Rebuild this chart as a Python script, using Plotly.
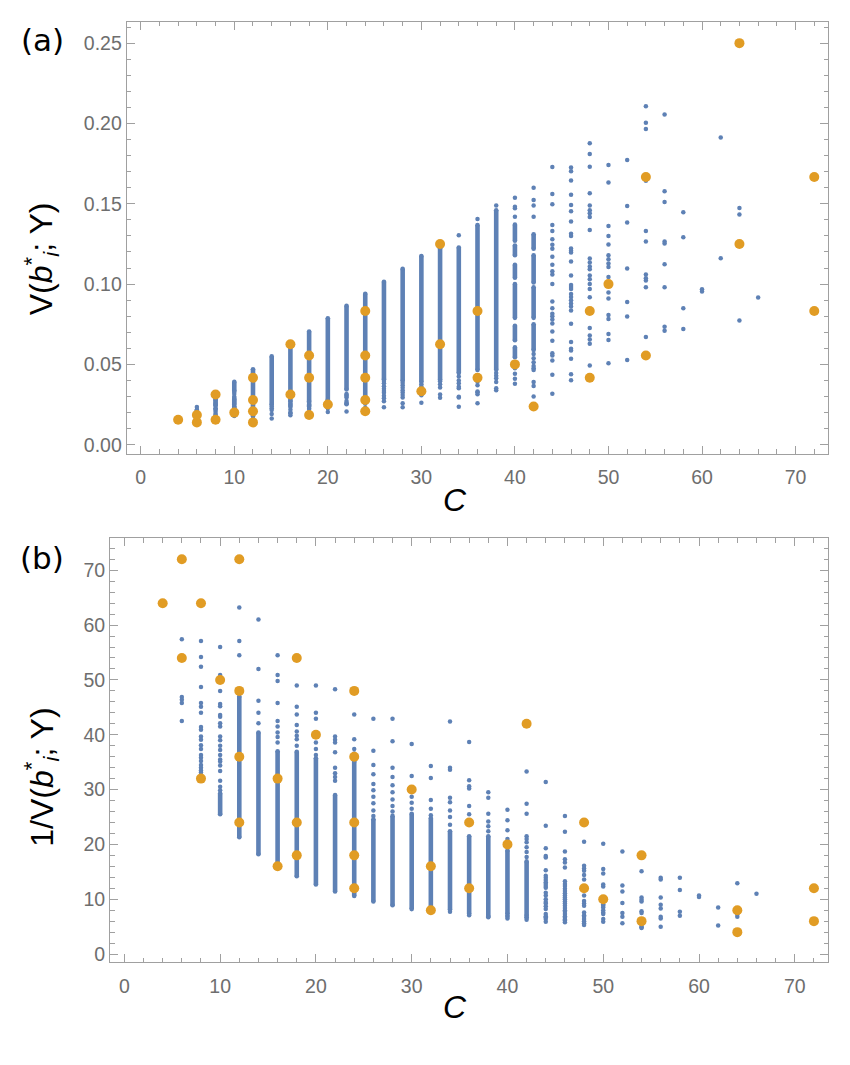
import plotly.graph_objects as go

W, H = 850, 1065
BLUE = "#5E81B5"
ORANGE = "#E19C24"

# ---------------- Panel (a): V(b_i*; Y) ----------------
# dense (visually continuous) stretches of points in a column
a_seg_C = [10, 12, 14, 16, 18, 20, 22, 24, 26, 28, 30, 32, 34, 36, 38,
           40, 40, 40, 40, 40, 40, 42, 42, 42, 42]
a_seg_lo = [0.0334, 0.0213, 0.0248, 0.0270, 0.0271, 0.0280, 0.0344, 0.0285, 0.0407, 0.0397,
            0.0390, 0.0403, 0.0446, 0.0465, 0.0466,
            0.0545, 0.0650, 0.0790, 0.1040, 0.1180, 0.1270, 0.0590, 0.0790, 0.1010, 0.1220]
a_seg_hi = [0.0392, 0.0470, 0.0550, 0.0615, 0.0705, 0.0787, 0.0865, 0.0940, 0.1015, 0.1095,
            0.1175, 0.1223, 0.1228, 0.1368, 0.1460,
            0.0606, 0.0740, 0.1000, 0.1120, 0.1240, 0.1370, 0.0750, 0.0980, 0.1180, 0.1310]

# individual points per column C
a_pts = {
    6: [0.0174, 0.0213, 0.0216, 0.0218, 0.0235],
    8: [0.0175, 0.0185, 0.0191, 0.0205, 0.0218, 0.0222, 0.0227, 0.0242, 0.0244, 0.0252,
        0.0256, 0.0262, 0.0267, 0.0275, 0.0279, 0.0284, 0.0290, 0.0294, 0.0299, 0.0302],
    10: [0.0179, 0.0196, 0.0208, 0.0219, 0.0221, 0.0229, 0.0231, 0.0238, 0.0241, 0.0252,
         0.0256, 0.0263, 0.0269, 0.0275, 0.0282, 0.0285, 0.0291, 0.0299, 0.0316, 0.0328],
    12: [0.0158, 0.0175, 0.0183],
    14: [0.0164, 0.0192, 0.0216, 0.0227, 0.0238],
    16: [0.0183, 0.0196, 0.0201, 0.0218, 0.0235, 0.0241, 0.0248, 0.0253, 0.0259],
    18: [0.0204, 0.0222, 0.0229, 0.0239, 0.0246, 0.0251, 0.0255, 0.0263],
    20: [0.0204, 0.0227, 0.0233, 0.0259, 0.0267, 0.0275],
    22: [0.0207, 0.0252, 0.0256, 0.0259, 0.0272, 0.0294, 0.0303, 0.0310, 0.0316],
    24: [0.0229, 0.0255, 0.0267, 0.0273],
    26: [0.0233, 0.0270, 0.0290, 0.0305, 0.0323, 0.0334, 0.0348, 0.0364, 0.0382, 0.0397],
    28: [0.0233, 0.0258, 0.0294, 0.0310, 0.0325, 0.0339, 0.0355, 0.0370, 0.0385],
    30: [0.0261, 0.0308, 0.0348, 0.0362, 0.0377],
    32: [0.0292, 0.0312, 0.0356, 0.0377, 0.0395],
    34: [0.0236, 0.0294, 0.0298, 0.0351, 0.0361, 0.0382, 0.0400, 0.0424, 0.1304],
    36: [0.0258, 0.0315, 0.0327, 0.0331, 0.0370, 0.0392, 0.1406],
    38: [0.0339, 0.0351, 0.0390, 0.0414, 0.0429, 0.0446, 0.1489],
    40: [0.0380, 0.0410, 0.0442, 0.0476, 0.1420, 0.1472, 0.1482, 0.1538],
    42: [0.0300, 0.0365, 0.0390, 0.0465, 0.0476, 0.0490, 0.0513, 0.0538, 0.0565,
         0.1420, 0.1489, 0.1524, 0.1600],
    44: [0.1729, 0.1561, 0.1497, 0.1368, 0.1330, 0.1280, 0.1245, 0.1220, 0.1170, 0.1120,
         0.1080, 0.1060, 0.1000, 0.0891, 0.0850, 0.0815, 0.0800, 0.0780, 0.0755, 0.0705,
         0.0648, 0.0570, 0.0555, 0.0525, 0.0435, 0.0317],
    46: [0.1726, 0.1702, 0.1645, 0.1557, 0.1493, 0.1454, 0.1390, 0.1314, 0.1300, 0.1221,
         0.1208, 0.1196, 0.1141, 0.1053, 0.0995, 0.0982, 0.0970, 0.0939, 0.0920, 0.0900,
         0.0880, 0.0860, 0.0835, 0.0753, 0.0639, 0.0597, 0.0587, 0.0536, 0.0439, 0.0402],
    48: [0.1877, 0.1810, 0.1730, 0.1566, 0.1489, 0.1460, 0.1441, 0.1417, 0.1337, 0.1159,
         0.1135, 0.1110, 0.1093, 0.1053, 0.1030, 0.1000, 0.0970, 0.0918, 0.0727, 0.0680,
         0.0655, 0.0628, 0.0493],
    50: [0.1742, 0.1633, 0.1362, 0.1299, 0.1247, 0.1179, 0.1155, 0.1128, 0.1106, 0.1044,
         0.0948, 0.0911, 0.0807, 0.0782, 0.0689, 0.0652, 0.0507],
    52: [0.1772, 0.1486, 0.1383, 0.1097, 0.0889, 0.0798, 0.0527],
    54: [0.2108, 0.2005, 0.1965, 0.1644, 0.1331, 0.1265, 0.1059, 0.1037, 0.1022, 0.0981, 0.0670],
    56: [0.2056, 0.1578, 0.1511, 0.1265, 0.1252, 0.1124, 0.0981, 0.0734, 0.0709],
    58: [0.1447, 0.1291, 0.0850, 0.0721],
    60: [0.0968, 0.0954],
    62: [0.1913, 0.1161],
    64: [0.1474, 0.1434, 0.0773],
    66: [0.0916],
}

# highlighted (orange) configurations
org_C = [4, 6, 6, 8, 8, 10, 12, 12, 12, 12, 16, 16, 18, 18, 18, 20,
         24, 24, 24, 24, 24, 30, 32, 32, 36, 36, 40, 42, 48, 48, 50, 54, 54, 64, 64, 72, 72]
a_org_V = [0.0156, 0.0139, 0.0185, 0.0156, 0.03125, 0.0200, 0.0139, 0.0208, 0.0278, 0.0417,
           0.03125, 0.0625, 0.0185, 0.0417, 0.0556, 0.0250,
           0.0208, 0.0278, 0.0417, 0.0556, 0.0833, 0.0333, 0.0625, 0.1250, 0.0417, 0.0833,
           0.0500, 0.0238, 0.0417, 0.0833, 0.1000, 0.0556, 0.1667, 0.1250, 0.2500, 0.0833, 0.1667]

# ---------------- Panel (b): 1/V(b_i*; Y) ----------------
b_seg_C = [10, 12, 14, 16, 18, 20, 22, 24, 26, 28, 30, 32, 34, 36, 38, 40, 42]
b_seg_lo = [25.5, 21.3, 18.2, 16.3, 14.2, 12.7, 11.4, 10.6, 9.6, 8.9, 8.2, 8.2, 8.1, 7.3, 6.85, 7.3, 7.0]
b_seg_hi = [29.3, 47.0, 40.4, 37.0, 36.9, 35.7, 29.0, 35.1, 24.6, 25.2, 25.6, 24.8, 22.4, 21.5, 21.5, 18.9, 16.9]

b_pts = {
    6: [57.4, 46.9, 46.4, 45.8, 42.5],
    8: [57.1, 54.2, 52.4, 48.7, 45.8, 45.1, 44.0, 41.4, 40.9, 39.7, 39.1, 38.1, 37.4, 36.3,
        35.8, 35.2, 34.5, 34.0, 33.5, 33.1],
    10: [56.0, 50.9, 48.0, 45.6, 45.2, 43.6, 43.3, 42.1, 41.5, 39.7, 39.0, 38.0, 37.2, 36.3,
         35.5, 35.1, 34.4, 33.4, 31.6, 30.5, 29.9],
    12: [63.2, 57.1, 54.5],
    14: [61.0, 52.0, 46.2, 44.0, 42.1],
    16: [54.5, 50.9, 49.8, 45.8, 42.5, 41.5, 40.4, 39.6, 38.6],
    18: [49.0, 45.1, 43.7, 41.8, 40.6, 39.8, 39.2, 38.0],
    20: [49.0, 44.0, 42.9, 38.6, 37.4, 36.3],
    22: [48.3, 39.7, 39.1, 38.6, 36.8, 34.0, 33.0, 32.3, 31.6],
    24: [43.7, 39.2, 37.4, 36.6],
    26: [42.9, 37.1, 34.5, 32.8, 31.0, 29.9, 28.7, 27.5, 26.2, 25.2],
    28: [42.9, 38.8, 34.0, 32.3, 30.8, 29.5, 28.2, 27.0, 26.0],
    30: [38.3, 32.5, 28.7, 27.6, 26.5],
    32: [34.3, 32.1, 28.1, 26.5, 25.3],
    34: [42.4, 34.0, 33.6, 28.5, 27.7, 26.2, 25.0, 23.6, 7.7],
    36: [38.7, 31.7, 30.6, 30.2, 27.0, 25.5, 7.1],
    38: [29.5, 28.5, 25.6, 24.2, 23.3, 22.4, 6.7],
    40: [26.3, 24.4, 22.6, 21.0, 7.0, 6.8, 6.5],
    42: [33.3, 27.4, 25.6, 21.5, 21.0, 20.4, 19.5, 18.6, 17.7, 6.7, 6.6, 6.25],
    44: [31.4, 23.4, 19.3, 17.9, 17.6, 15.3, 14.3, 13.9, 13.5, 13.1, 12.8, 12.4, 12.1, 11.2,
         10.7, 10.0, 9.5, 9.2, 8.7, 8.2, 7.3, 6.9, 6.7, 6.4, 5.9],
    46: [25.2, 22.3, 18.7, 17.3, 16.7, 15.8, 13.3, 12.8, 12.4, 11.9, 11.5, 11.1, 10.7, 10.3,
         10.0, 9.6, 9.2, 8.8, 8.4, 8.0, 7.7, 7.3, 6.9, 6.6, 6.3, 6.1, 5.8],
    48: [20.5, 16.1, 15.6, 15.2, 14.4, 13.6, 10.7, 9.7, 9.2, 8.8, 7.6, 7.1, 6.8, 6.4, 6.0, 5.6, 5.3],
    50: [20.1, 15.5, 14.7, 12.7, 12.3, 9.1, 8.8, 8.5, 8.0, 7.6, 7.3, 6.4, 5.9],
    52: [18.7, 12.5, 11.4, 9.3, 7.5, 6.8, 5.6],
    54: [15.1, 10.3, 9.9, 9.6, 7.8, 7.5, 6.1, 5.1, 4.9, 4.75],
    56: [13.9, 13.6, 10.3, 9.0, 8.3, 6.8, 6.5, 5.0],
    58: [13.9, 11.7, 7.7, 7.0],
    60: [10.7, 10.4],
    62: [8.5, 5.2],
    64: [12.9, 7.2, 6.8],
    66: [11.0],
}

b_org_V = [64, 72, 54, 64, 32, 50, 72, 48, 36, 24, 32, 16, 54, 24, 18, 40,
           48, 36, 24, 18, 12, 30, 16, 8, 24, 12, 20, 42, 24, 12, 10, 18, 6, 8, 4, 12, 6]

# ---------------- figure ----------------
fig = go.Figure()


def add_panel(seg_C, seg_lo, seg_hi, pts, org_y, xa, ya):
    sx, sy = [], []
    for c, lo, hi in zip(seg_C, seg_lo, seg_hi):
        sx += [c, c, None]
        sy += [lo, hi, None]
    fig.add_trace(go.Scatter(x=sx, y=sy, mode="lines+markers", xaxis=xa, yaxis=ya,
                             line=dict(color=BLUE, width=4.6),
                             marker=dict(color=BLUE, size=4.6),
                             hoverinfo="skip", showlegend=False))
    px, py = [], []
    for c, vals in pts.items():
        px += [c] * len(vals)
        py += vals
    fig.add_trace(go.Scatter(x=px, y=py, mode="markers", xaxis=xa, yaxis=ya,
                             marker=dict(color=BLUE, size=4.5, line=dict(width=0)),
                             showlegend=False))
    fig.add_trace(go.Scatter(x=org_C, y=org_y, mode="markers", xaxis=xa, yaxis=ya,
                             marker=dict(color=ORANGE, size=10, line=dict(width=0)),
                             showlegend=False))


add_panel(a_seg_C, a_seg_lo, a_seg_hi, a_pts, a_org_V, "x", "y")
add_panel(b_seg_C, b_seg_lo, b_seg_hi, b_pts, b_org_V, "x2", "y2")

FRAME = "#a0a0a0"
TICKFONT = dict(family="Liberation Sans, Arial, sans-serif", size=19.5, color="#6e6e6e")

common = dict(showline=True, linecolor=FRAME, linewidth=1, mirror="allticks",
              ticks="inside", ticklen=8, tickcolor=FRAME, tickwidth=1,
              showgrid=False, zeroline=False, tickfont=TICKFONT)

xcommon = dict(common, range=[-1.5, 73.5], tickvals=[0, 10, 20, 30, 40, 50, 60, 70],
               ticklabelstandoff=6,
               minor=dict(ticks="inside", dtick=2, tick0=0, ticklen=4.5, tickcolor=FRAME, showgrid=False))

fig.update_layout(
    width=W, height=H,
    margin=dict(l=0, r=0, t=0, b=0),
    paper_bgcolor="white", plot_bgcolor="white",
    xaxis=dict(xcommon, domain=[126.7 / W, 828.3 / W], anchor="y"),
    yaxis=dict(common, domain=[1 - 455 / H, 1 - 21.7 / H], anchor="x",
               range=[-0.0056, 0.2634], tickvals=[0, 0.05, 0.10, 0.15, 0.20, 0.25],
               tickformat=".2f",
               minor=dict(ticks="inside", dtick=0.01, tick0=0, ticklen=4.5, tickcolor=FRAME, showgrid=False)),
    xaxis2=dict(xcommon, domain=[110 / W, 828.3 / W], anchor="y2"),
    yaxis2=dict(common, domain=[1 - 965 / H, 1 - 540 / H], anchor="x2",
                range=[-1.5, 75.8], tickvals=[0, 10, 20, 30, 40, 50, 60, 70],
                minor=dict(ticks="inside", dtick=2, tick0=0, ticklen=4.5, tickcolor=FRAME, showgrid=False)),
)

LABFONT = dict(family="DejaVu Sans, sans-serif", size=31, color="black")
TITLEFONT = dict(family="Liberation Sans, Arial, sans-serif", size=32, color="black")


def ann(text, xpx, ypx, font, angle=0):
    fig.add_annotation(text=text, x=xpx / W, y=1 - ypx / H, xref="paper", yref="paper",
                       showarrow=False, font=font, textangle=angle,
                       xanchor="center", yanchor="middle")


ann("(a)", 42, 40, LABFONT)
ann("(b)", 42, 560, LABFONT)
ann("<i>C</i>", 455, 501, TITLEFONT)
ann("<i>C</i>", 455, 1010, TITLEFONT)
ann("V(<i>b</i><sup>*</sup><sub><i>i</i></sub>; Y)", 41, 260, TITLEFONT, -90)
ann("1/V(<i>b</i><sup>*</sup><sub><i>i</i></sub>; Y)", 42, 780, TITLEFONT, -90)

fig.write_html("out.html")
